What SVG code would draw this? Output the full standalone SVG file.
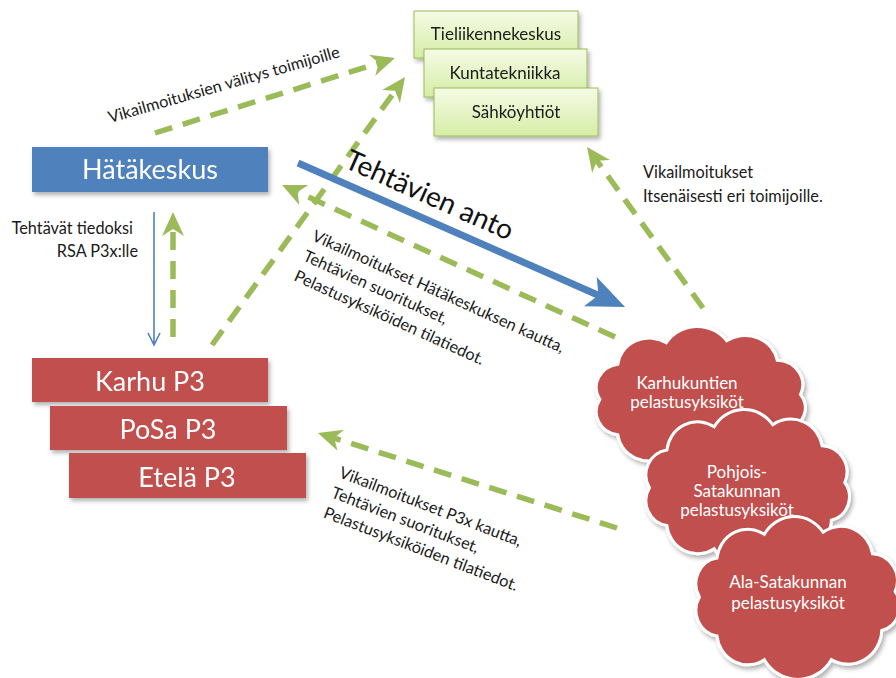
<svg xmlns="http://www.w3.org/2000/svg" xmlns:xlink="http://www.w3.org/1999/xlink" width="896" height="678" viewBox="0 0 896 678">
<style>
  text { font-family: Lato, "Noto Sans", "Liberation Sans", sans-serif; }
  .lbl { font-size: 16.3px; fill: #1a1a1a; }
  .big { font-size: 27px; fill: #ffffff; text-anchor: middle; }
  .grn { fill: url(#gg); stroke: #9BBB59; stroke-width: 1; }
  .gtx { font-size: 17px; fill: #1a1a1a; text-anchor: middle; }
  .ctx { font-size: 17px; fill: #ffffff; text-anchor: middle; }
  .dash { fill: none; stroke: #9BBB59; stroke-width: 5.5; stroke-dasharray: 18 11; marker-end: url(#ga); }
  .cloud { fill: #C0504D; stroke: #ffffff; stroke-width: 3; }
</style>
<defs>
  <linearGradient id="gg" x1="0" y1="0" x2="0" y2="1">
    <stop offset="0" stop-color="#F5FBE6"/>
    <stop offset="1" stop-color="#D6EDA6"/>
  </linearGradient>
  <filter id="sh" x="-10%" y="-10%" width="125%" height="130%">
    <feDropShadow dx="2" dy="3" stdDeviation="2" flood-color="#000" flood-opacity="0.3"/>
  </filter>
  <marker id="ga" markerUnits="userSpaceOnUse" markerWidth="24" markerHeight="22" viewBox="0 0 24 22" refX="8" refY="11" orient="auto">
    <path d="M0,0 L24,11 L0,22 L7,11 z" fill="#9BBB59"/>
  </marker>
  <marker id="ba" markerUnits="userSpaceOnUse" markerWidth="38" markerHeight="32" viewBox="0 0 38 32" refX="10" refY="16" orient="auto">
    <path d="M0,0 L38,16 L0,32 L9,16 z" fill="#4F81BD"/>
  </marker>
  <path id="cloud" vector-effect="non-scaling-stroke" d="M15,75 A24,24 0 0 1 32,39 A30,30 0 0 1 78,17 A34,34 0 0 1 135,15 A31,31 0 0 1 183,35 A25,25 0 0 1 205,70 A23,23 0 0 1 192,106 A33,33 0 0 1 143,133 A38,38 0 0 1 78,133 A30,30 0 0 1 32,111 A24,24 0 0 1 15,75 Z"/>
</defs>

<rect width="896" height="678" fill="#ffffff"/>

<!-- Green boxes -->
<g id="tieliikennekeskus" filter="url(#sh)">
  <rect class="grn" x="414" y="11" width="164" height="47"/>
  <text class="gtx" x="496" y="40">Tieliikennekeskus</text>
</g>
<g id="kuntatekniikka" filter="url(#sh)">
  <rect class="grn" x="424" y="49" width="163" height="48"/>
  <text class="gtx" x="505" y="79">Kuntatekniikka</text>
</g>
<g id="sahkoyhtiot" filter="url(#sh)">
  <rect class="grn" x="434" y="88" width="164" height="48"/>
  <text class="gtx" x="516" y="118">Sähköyhtiöt</text>
</g>

<!-- Hätäkeskus -->
<g id="hatakeskus" filter="url(#sh)">
  <rect x="32" y="147" width="236" height="45" fill="#4F81BD"/>
  <text class="big" x="150" y="179">Hätäkeskus</text>
</g>

<!-- P3 boxes -->
<g id="karhu" filter="url(#sh)">
  <rect x="32" y="358" width="236" height="44" fill="#C0504D"/>
  <text class="big" x="150" y="391">Karhu P3</text>
</g>
<g id="posa" filter="url(#sh)">
  <rect x="50" y="406" width="237" height="44" fill="#C0504D"/>
  <text class="big" x="168" y="439">PoSa P3</text>
</g>
<g id="etela" filter="url(#sh)">
  <rect x="69" y="453" width="237" height="45" fill="#C0504D"/>
  <text class="big" x="187" y="487">Etelä P3</text>
</g>

<!-- Clouds -->
<g id="karhukuntien">
  <use xlink:href="#cloud" class="cloud" transform="translate(584,326) scale(1.056,0.98)" filter="url(#sh)"/>
  <text class="ctx" x="687" y="389">Karhukuntien</text>
  <text class="ctx" x="687" y="408">pelastusyksiköt</text>
</g>
<g id="pohjois-satakunnan">
  <use xlink:href="#cloud" class="cloud" transform="translate(634,409) scale(1.028,1.05)" filter="url(#sh)"/>
  <text class="ctx" x="737" y="478">Pohjois-</text>
  <text class="ctx" x="737" y="497">Satakunnan</text>
  <text class="ctx" x="737" y="516">pelastusyksiköt</text>
</g>
<g id="ala-satakunnan">
  <use xlink:href="#cloud" class="cloud" transform="translate(684,516) scale(1.03,1.08)" filter="url(#sh)"/>
  <text class="ctx" x="788" y="588">Ala-Satakunnan</text>
  <text class="ctx" x="788" y="609">pelastusyksiköt</text>
</g>

<!-- Connectors -->
<g id="connectors">
  <path class="dash" d="M155,133 L379.7,62.8"/>
  <path class="dash" d="M212,345 L395.7,90"/>
  <path class="dash" d="M615,337 L296.6,191.6"/>
  <path class="dash" d="M703,308 L596.4,160"/>
  <path class="dash" d="M617,528 L333.2,437.8"/>
  <path class="dash" d="M173,337 L173,228"/>
  <path d="M298,163 L599.4,295.7" fill="none" stroke="#4F81BD" stroke-width="7" marker-end="url(#ba)"/>
  <path d="M154,212 L154,345 M148,333 L154,345 L160,333" fill="none" stroke="#4F81BD" stroke-width="1.6"/>
</g>

<!-- Labels -->
<text class="lbl" transform="translate(110,123) rotate(-16)">Vikailmoituksien välitys toimijoille</text>
<text transform="translate(343,167) rotate(24)" style="font-size:28px;fill:#111">Tehtävien anto</text>
<text class="lbl" transform="translate(311,240) rotate(24.3)">
  <tspan x="0" y="0">Vikailmoitukset Hätäkeskuksen kautta,</tspan>
  <tspan x="0" dy="22">Tehtävien suoritukset,</tspan>
  <tspan x="0" dy="22">Pelastusyksiköiden tilatiedot.</tspan>
</text>
<text class="lbl" transform="translate(338,477) rotate(21)">
  <tspan x="0" y="0">Vikailmoitukset P3x kautta,</tspan>
  <tspan x="0" dy="21.5">Tehtävien suoritukset,</tspan>
  <tspan x="0" dy="21.5">Pelastusyksiköiden tilatiedot.</tspan>
</text>
<text class="lbl" x="133" y="234" text-anchor="end">Tehtävät tiedoksi</text>
<text class="lbl" x="138" y="257" text-anchor="end">RSA P3x:lle</text>
<text class="lbl" x="643" y="178">Vikailmoitukset</text>
<text class="lbl" x="643" y="202">Itsenäisesti eri toimijoille.</text>
</svg>
